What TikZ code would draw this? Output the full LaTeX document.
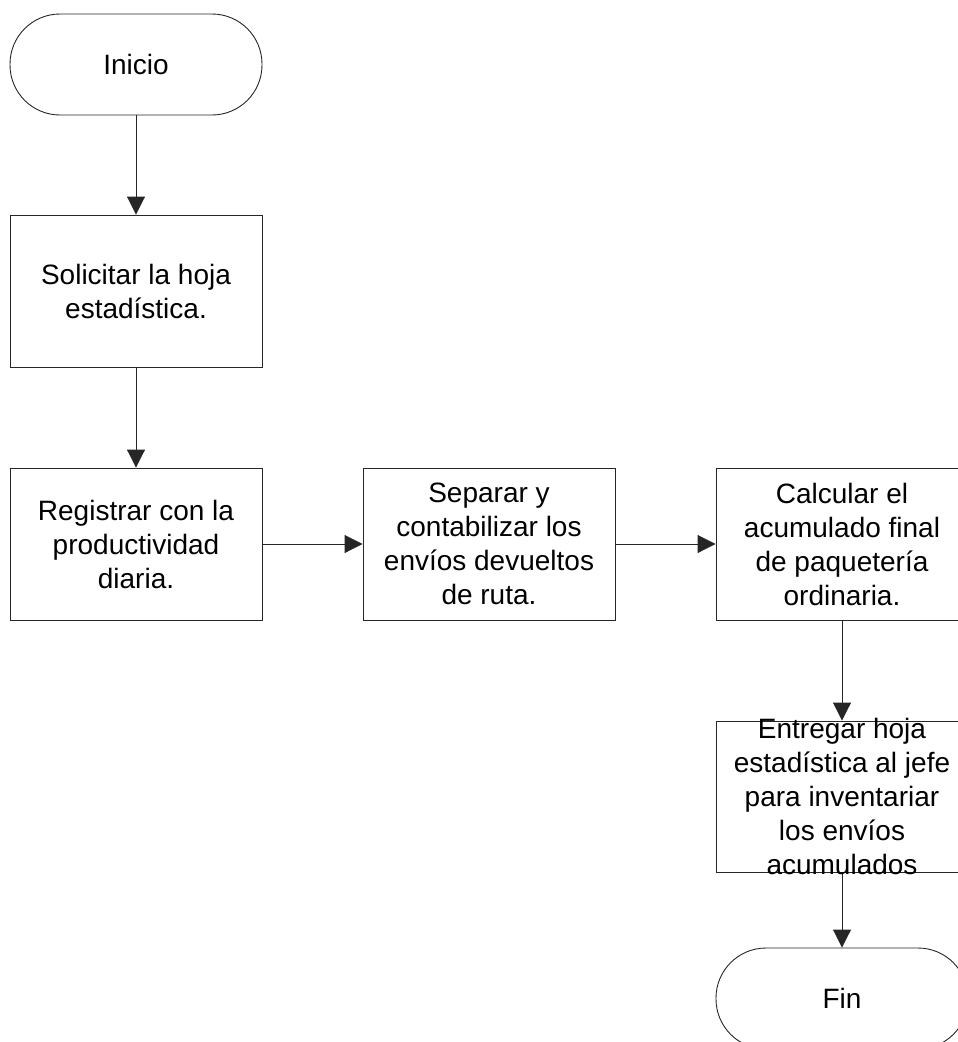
\documentclass[tikz,border=0pt]{standalone}
\usepackage{fontspec}
\setmainfont{Liberation Sans}
\usetikzlibrary{arrows.meta}
\begin{document}
\begin{tikzpicture}[x=1pt,y=-1pt,
  txt/.style={font=\fontsize{28}{34}\selectfont, align=center, inner sep=0pt},
  stepbox/.style={txt, draw=black!85, line width=0.9pt, fill=white,
    minimum width=252pt, minimum height=152pt},
  terminal/.style={txt, draw=black!85, line width=0.9pt, fill=white,
    minimum width=252pt, minimum height=101pt, rounded corners=50pt},
  conn/.style={draw=black!85, line width=0.9pt,
    -{Triangle[length=18pt,width=18pt]}}
]
\useasboundingbox (0,0) rectangle (958,1042);
\clip (0,0) rectangle (958,1042);

% terminals and process steps
\node[terminal] (inicio) at (136,64.5) {Inicio};
\node[stepbox] (solicitar) at (136,291) {Solicitar la hoja\\estadística.};
\node[stepbox] (registrar) at (136,544) {Registrar con la\\productividad\\diaria.};
\node[stepbox] (separar) at (489,544) {Separar y\\contabilizar los\\envíos devueltos\\de ruta.};
\node[stepbox] (calcular) at (842,544) {Calcular el\\acumulado final\\de paquetería\\ordinaria.};
\node[stepbox, minimum height=151pt] (entregar) at (842,796.5) {};
\node[terminal] (fin) at (842,998.5) {Fin};

% connectors
\draw[conn] (inicio) -- (solicitar);
\draw[conn] (solicitar) -- (registrar);
\draw[conn] (registrar) -- (separar);
\draw[conn] (separar) -- (calcular);
\draw[conn] (calcular) -- (entregar);
\draw[conn] (entregar) -- (fin);

% the last step's text runs past its box
\node[txt] (entregartxt) at (entregar.center)
  {Entregar hoja\\estadística al jefe\\para inventariar\\los envíos\\acumulados};
\end{tikzpicture}
\end{document}
